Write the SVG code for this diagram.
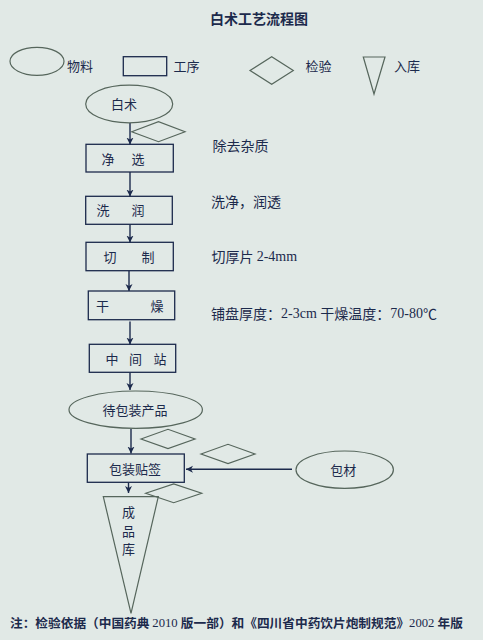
<svg xmlns="http://www.w3.org/2000/svg" width="483" height="640" viewBox="0 0 483 640">
<defs>
<style>
.bg{fill:#e1e9e6}
.sh{fill:none;stroke:#56665c;stroke-width:1.2}
.bx{fill:none;stroke:#1c2a4c;stroke-width:1.3}
.ln{fill:none;stroke:#1c2a4c;stroke-width:1.4}
.t{font-family:"Noto Sans CJK SC","Liberation Sans",sans-serif;font-size:13px;fill:#1c2a4c;dominant-baseline:central}
.n{font-family:"Noto Sans CJK SC","Liberation Serif",serif;font-size:14px;fill:#1c2a4c;dominant-baseline:central}
.s{font-family:"Liberation Serif","Noto Sans CJK SC",serif}
.b{font-family:"Noto Sans CJK SC","Liberation Serif",serif;font-weight:bold;fill:#1c2a4c;dominant-baseline:central}
</style>
<marker id="ah" markerUnits="userSpaceOnUse" markerWidth="8" markerHeight="8" refX="7" refY="4" orient="auto">
<path d="M0,0.5 L7,4 L0,7.5 L2,4 z" fill="#1c2a4c"/>
</marker>
</defs>
<rect class="bg" x="0" y="0" width="483" height="640"/>
<text class="b" x="259" y="18" font-size="14" text-anchor="middle">白术工艺流程图</text>

<g id="legend">
<ellipse class="sh" cx="37" cy="61.3" rx="27" ry="14"/>
<text class="t" x="67" y="65">物料</text>
<rect class="bx" x="123.3" y="56.7" width="43.4" height="19"/>
<text class="t" x="173.5" y="65">工序</text>
<polygon class="sh" points="250,70.5 271.7,56.7 293.3,70.5 271.7,84.3"/>
<text class="t" x="305.5" y="65">检验</text>
<polygon class="sh" points="363.3,57 385,57 374,94"/>
<text class="t" x="394" y="65">入库</text>
</g>

<g id="connectors">
<line class="ln" x1="130" y1="123" x2="130" y2="144.5" marker-end="url(#ah)"/>
<line class="ln" x1="130" y1="172" x2="130" y2="196.5" marker-end="url(#ah)"/>
<line class="ln" x1="130" y1="224.5" x2="130" y2="242.5" marker-end="url(#ah)"/>
<line class="ln" x1="129" y1="271" x2="129" y2="291" marker-end="url(#ah)"/>
<line class="ln" x1="130" y1="321.5" x2="130" y2="344.5" marker-end="url(#ah)"/>
<line class="ln" x1="130" y1="372.5" x2="130" y2="390" marker-end="url(#ah)"/>
<line class="ln" x1="131" y1="429" x2="131" y2="453.5" marker-end="url(#ah)"/>
<line class="ln" x1="292" y1="469.3" x2="186" y2="469.3" marker-end="url(#ah)"/>
<line class="ln" x1="128.5" y1="482.5" x2="128.5" y2="493" marker-end="url(#ah)"/>
</g>

<g id="n-baizhu">
<ellipse class="sh" cx="129.2" cy="104" rx="43.5" ry="18.8"/>
<text class="t" x="124" y="103" text-anchor="middle">白术</text>
</g>
<g id="q1"><polygon class="sh" points="131.7,131.7 158.5,121.7 185,131.7 158.5,141.7"/></g>
<g id="n-jingxuan">
<rect class="bx" x="86" y="144.3" width="87.3" height="27.7"/>
<text class="t" x="108" y="158" text-anchor="middle">净</text>
<text class="t" x="138" y="158" text-anchor="middle">选</text>
</g>
<text class="n" x="212.5" y="145">除去杂质</text>
<g id="n-xirun">
<rect class="bx" x="85.7" y="196.3" width="86.6" height="28"/>
<text class="t" x="103" y="209.5" text-anchor="middle">洗</text>
<text class="t" x="138" y="209.5" text-anchor="middle">润</text>
</g>
<text class="n" x="211" y="200.5">洗净，润透</text>
<g id="n-qiezhi">
<rect class="bx" x="86" y="242.3" width="87.3" height="28.4"/>
<text class="t" x="110" y="256" text-anchor="middle">切</text>
<text class="t" x="148" y="256" text-anchor="middle">制</text>
</g>
<text class="n" x="211.5" y="256">切厚片 <tspan class="s">2-4mm</tspan></text>
<g id="n-ganzao">
<rect class="bx" x="88.3" y="291" width="86.4" height="28.7"/>
<text class="t" x="102.5" y="305" text-anchor="middle">干</text>
<text class="t" x="157" y="305" text-anchor="middle">燥</text>
</g>
<text class="n" x="211" y="313">铺盘厚度：<tspan class="s">2-3cm </tspan>干燥温度：<tspan class="s">70-80</tspan>℃</text>
<g id="n-zhongjianzhan">
<rect class="bx" x="89.3" y="344.3" width="86.4" height="28"/>
<text class="t" x="112" y="358" text-anchor="middle">中</text>
<text class="t" x="135.5" y="358" text-anchor="middle">间</text>
<text class="t" x="160" y="358" text-anchor="middle">站</text>
</g>
<g id="n-daibaozhuang">
<ellipse class="sh" cx="135.7" cy="409.7" rx="66.7" ry="18.7"/>
<text class="t" x="135" y="409" text-anchor="middle">待包装产品</text>
</g>
<g id="q2"><polygon class="sh" points="141,439 168,429.3 195,439 168,448.5"/></g>
<g id="q3"><polygon class="sh" points="201,454 228,444.3 255,454 228,463.5"/></g>
<g id="n-baozhuangtieqian">
<rect class="bx" x="87.3" y="454" width="97" height="28.3"/>
<text class="t" x="135" y="468" text-anchor="middle">包装贴签</text>
</g>
<g id="n-baocai">
<ellipse class="sh" cx="344.7" cy="469.7" rx="48.7" ry="18.7"/>
<text class="t" x="343.3" y="469" text-anchor="middle">包材</text>
</g>
<g id="q4"><polygon class="sh" points="145.7,493.3 173.7,484 201.7,493.3 173.7,502.7"/></g>
<g id="n-chengpinku">
<polygon class="sh" points="103.3,496.7 158.3,496.7 131,613.3"/>
<text class="t" x="128.5" y="511.5" text-anchor="middle">成</text>
<text class="t" x="128.5" y="530.5" text-anchor="middle">品</text>
<text class="t" x="128.5" y="548.5" text-anchor="middle">库</text>
</g>
<text class="b" x="10" y="622.5" font-size="12.5" textLength="453" lengthAdjust="spacingAndGlyphs">注：检验依据（中国药典 <tspan class="s" font-weight="normal">2010 </tspan>版一部）和《四川省中药饮片炮制规范》<tspan class="s" font-weight="normal">2002 </tspan>年版</text>
</svg>
